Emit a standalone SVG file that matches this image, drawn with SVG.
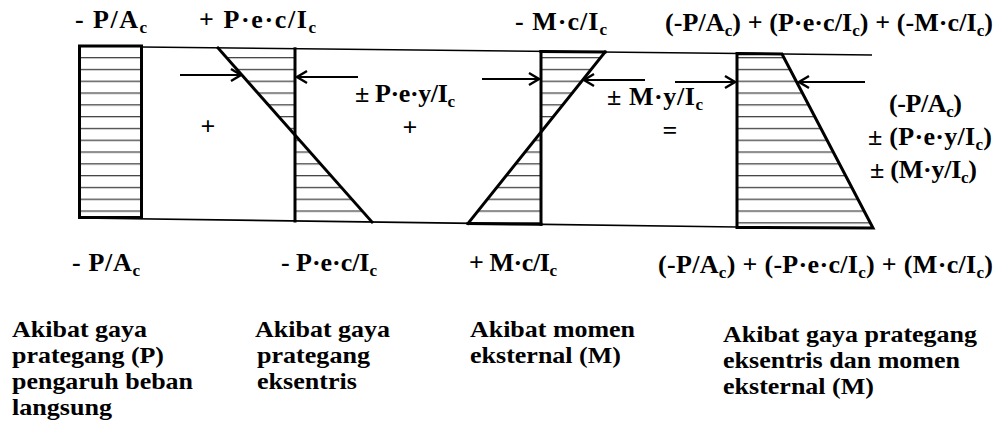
<svg xmlns="http://www.w3.org/2000/svg" width="1000" height="437" viewBox="0 0 1000 437">
<style>
  .t { font-family: "Liberation Serif", "Times New Roman", serif; font-weight: bold; font-size: 26px; fill: #000; }
  .cap { font-family: "Liberation Serif", "Times New Roman", serif; font-weight: bold; font-size: 23px; fill: #000; }
  .s { font-size: 17px; }
  .thick { stroke: #000; stroke-width: 3; fill: none; stroke-linecap: square; }
  .thin { stroke: #000; stroke-width: 1.6; fill: none; }
  .hatchfill { fill: url(#hatch); stroke: none; }
  .arrow { stroke: #000; stroke-width: 2.2; fill: none; marker-end: url(#head); }
</style>
<defs>
  <pattern id="hatch" patternUnits="userSpaceOnUse" x="0" y="0" width="20" height="11.8">
    <line x1="0" y1="10.5" x2="20" y2="10.5" stroke="#333" stroke-width="1.2"/>
  </pattern>
  <marker id="head" viewBox="-1 -8 13 16" refX="10" refY="0" markerWidth="13" markerHeight="16" markerUnits="userSpaceOnUse" orient="auto">
    <path d="M0,-6 L10,0 L0,6" fill="none" stroke="#000" stroke-width="2.4"/>
  </marker>
</defs>
<rect width="1000" height="437" fill="#fff"/>

<g id="guides">
  <line class="thin" x1="142" y1="47" x2="872" y2="55"/>
  <line class="thin" x1="79" y1="218" x2="737" y2="227"/>
</g>

<g id="node-axial">
  <rect class="hatchfill" x="79.5" y="46" width="62" height="171.5"/>
  <rect class="thick" x="79.5" y="46" width="62" height="171.5"/>
  <text class="t" x="75" y="28" textLength="72">- P/A<tspan class="s" dy="5">c</tspan></text>
  <text class="t" x="72" y="271" textLength="68">- P/A<tspan class="s" dy="5">c</tspan></text>
  <text class="t" x="208" y="135" text-anchor="middle">+</text>
  <text class="cap" x="12" y="337" textLength="135" lengthAdjust="spacingAndGlyphs">Akibat gaya</text>
  <text class="cap" x="12" y="363" textLength="152" lengthAdjust="spacingAndGlyphs">prategang (P)</text>
  <text class="cap" x="12" y="389" textLength="181" lengthAdjust="spacingAndGlyphs">pengaruh beban</text>
  <text class="cap" x="12" y="415" textLength="100" lengthAdjust="spacingAndGlyphs">langsung</text>
</g>

<g id="node-eccentric">
  <polygon class="hatchfill" points="218,48 295,48.8 295,134.5"/>
  <polygon class="hatchfill" points="295,134.5 372,222 295,221"/>
  <line class="thick" x1="218" y1="48" x2="372" y2="222"/>
  <line class="thick" x1="295" y1="48.8" x2="295" y2="221"/>
  <text class="t" x="199" y="28" textLength="117">+ P·e·c/I<tspan class="s" dy="5">c</tspan></text>
  <text class="t" x="355" y="102" textLength="100">± P·e·y/I<tspan class="s" dy="5">c</tspan></text>
  <text class="t" x="281" y="271" textLength="96">- P·e·c/I<tspan class="s" dy="5">c</tspan></text>
  <text class="t" x="410" y="136" text-anchor="middle">+</text>
  <text class="cap" x="255" y="337" textLength="135" lengthAdjust="spacingAndGlyphs">Akibat gaya</text>
  <text class="cap" x="257" y="363" textLength="113" lengthAdjust="spacingAndGlyphs">prategang</text>
  <text class="cap" x="257" y="389" textLength="100" lengthAdjust="spacingAndGlyphs">eksentris</text>
</g>

<g id="node-moment">
  <polygon class="hatchfill" points="541,51.5 605,52 541,132"/>
  <polygon class="hatchfill" points="541,132 468,223.5 541,224.3"/>
  <line class="thick" x1="541" y1="51.5" x2="541" y2="224.3"/>
  <line class="thick" x1="541" y1="51.5" x2="605" y2="52"/>
  <line class="thick" x1="605" y1="52" x2="468" y2="223.5"/>
  <line class="thick" x1="468" y1="223.5" x2="541" y2="224.3"/>
  <text class="t" x="515" y="30" textLength="92">- M·c/I<tspan class="s" dy="5">c</tspan></text>
  <text class="t" x="607" y="105" textLength="96">± M·y/I<tspan class="s" dy="5">c</tspan></text>
  <text class="t" x="469" y="271" textLength="88">+ M·c/I<tspan class="s" dy="5">c</tspan></text>
  <text class="t" x="670" y="139" text-anchor="middle">=</text>
  <text class="cap" x="470" y="337" textLength="165" lengthAdjust="spacingAndGlyphs">Akibat momen</text>
  <text class="cap" x="470" y="363" textLength="151" lengthAdjust="spacingAndGlyphs">eksternal (M)</text>
</g>

<g id="node-combined">
  <polygon class="hatchfill" points="737,53.5 782,54 873,228 737,227.5"/>
  <polygon class="thick" points="737,53.5 782,54 873,228 737,227.5" stroke-linejoin="miter"/>
  <text class="t" x="665" y="31" textLength="328">(-P/A<tspan class="s" dy="5">c</tspan><tspan dy="-5">) + (P·e·c/I</tspan><tspan class="s" dy="5">c</tspan><tspan dy="-5">) + (-M·c/I</tspan><tspan class="s" dy="5">c</tspan><tspan dy="-5">)</tspan></text>
  <text class="t" x="889" y="112" textLength="73">(-P/A<tspan class="s" dy="5">c</tspan><tspan dy="-5">)</tspan></text>
  <text class="t" x="868" y="145" textLength="124">± (P·e·y/I<tspan class="s" dy="5">c</tspan><tspan dy="-5">)</tspan></text>
  <text class="t" x="870" y="178" textLength="107">± (M·y/I<tspan class="s" dy="5">c</tspan><tspan dy="-5">)</tspan></text>
  <text class="t" x="658" y="273" textLength="335">(-P/A<tspan class="s" dy="5">c</tspan><tspan dy="-5">) + (-P·e·c/I</tspan><tspan class="s" dy="5">c</tspan><tspan dy="-5">) + (M·c/I</tspan><tspan class="s" dy="5">c</tspan><tspan dy="-5">)</tspan></text>
  <text class="cap" x="723" y="342" textLength="254" lengthAdjust="spacingAndGlyphs">Akibat gaya prategang</text>
  <text class="cap" x="723" y="368" textLength="237" lengthAdjust="spacingAndGlyphs">eksentris dan momen</text>
  <text class="cap" x="723" y="394" textLength="151" lengthAdjust="spacingAndGlyphs">eksternal (M)</text>
</g>

<g id="connectors">
  <line class="arrow" x1="180" y1="75" x2="241" y2="75"/>
  <line class="arrow" x1="358" y1="77" x2="297" y2="77"/>
  <line class="arrow" x1="482" y1="79" x2="539" y2="79"/>
  <line class="arrow" x1="645" y1="80" x2="584" y2="80"/>
  <line class="arrow" x1="675" y1="82" x2="735" y2="82"/>
  <line class="arrow" x1="865" y1="82" x2="799" y2="82"/>
</g>
</svg>
